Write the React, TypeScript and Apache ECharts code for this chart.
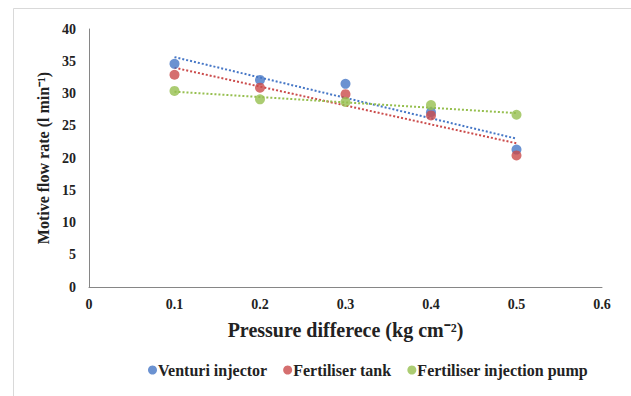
import React, { useEffect, useRef } from "react";
import * as echarts from "echarts";

const pressure = [0.1, 0.2, 0.3, 0.4, 0.5];
const venturi = [34.6, 32.1, 31.5, 27.1, 21.3];
const tank = [32.9, 30.9, 29.9, 26.6, 20.4];
const pump = [30.4, 29.1, 28.7, 28.2, 26.7];
const seriesNames = ["Venturi injector", "Fertiliser tank", "Fertiliser injection pump"];
const colors = ["#4677C6", "#CB4B4B", "#96BF4F"];

function trend(xs: number[], ys: number[]) {
  const n = xs.length;
  const mx = xs.reduce((a, b) => a + b, 0) / n;
  const my = ys.reduce((a, b) => a + b, 0) / n;
  let num = 0, den = 0;
  for (let i = 0; i < n; i++) {
    num += (xs[i] - mx) * (ys[i] - my);
    den += (xs[i] - mx) * (xs[i] - mx);
  }
  const b = num / den;
  const a = my - b * mx;
  const x0 = xs[0], x1 = xs[n - 1];
  return [[x0, a + b * x0], [x1, a + b * x1]];
}

export default function App() {
  const ref = useRef<HTMLDivElement>(null);
  useEffect(() => {
    document.body.style.margin = "0";
    const chart = echarts.init(ref.current!, null, { renderer: "svg" });
    const font = "'Liberation Serif', 'Times New Roman', serif";
    const all = [venturi, tank, pump];
    const scatterSeries = all.map((ys, i) => ({
      name: seriesNames[i],
      type: "scatter",
      symbol: "circle",
      symbolSize: 10,
      itemStyle: { color: colors[i] },
      data: pressure.map((x, j) => [x, ys[j]]),
      z: 3,
    }));
    const trendSeries = all.map((ys, i) => ({
      name: seriesNames[i] + " trend",
      type: "line",
      showSymbol: false,
      symbol: "none",
      lineStyle: { color: colors[i], width: 2, type: [2, 2] },
      data: trend(pressure, ys),
      z: 2,
    }));
    chart.setOption({
      animation: false,
      backgroundColor: "#ffffff",
      textStyle: { fontFamily: font },
      graphic: [
        {
          type: "rect",
          shape: { x: 13.5, y: 8.5, width: 700, height: 500 },
          style: { fill: "none", stroke: "#D9D9D9", lineWidth: 1 },
          silent: true,
          z: -1,
        },
      ],
      grid: { left: 89, right: 29, top: 29, bottom: 109 },
      legend: {
        data: seriesNames,
        left: 143,
        top: 357,
        icon: "circle",
        itemWidth: 9,
        itemHeight: 9,
        itemGap: 16,
        textStyle: { fontFamily: font, fontWeight: "bold", fontSize: 16, color: "#222", padding: [0, 0, 0, -4] },
      },
      xAxis: {
        type: "value",
        min: 0,
        max: 0.6,
        interval: 0.1,
        name: "Pressure differece (kg cm⁻²)",
        nameLocation: "middle",
        nameGap: 33,
        nameTextStyle: { fontFamily: font, fontWeight: "bold", fontSize: 20, color: "#222" },
        axisLine: { show: true, lineStyle: { color: "#868686", width: 1 } },
        axisTick: { show: false },
        splitLine: { show: false },
        axisLabel: { fontFamily: font, fontWeight: "bold", fontSize: 14, color: "#222", margin: 10 },
      },
      yAxis: {
        type: "value",
        min: 0,
        max: 40,
        interval: 5,
        name: "Motive flow rate (l min⁻¹)",
        nameLocation: "middle",
        nameGap: 36,
        nameTextStyle: { fontFamily: font, fontWeight: "bold", fontSize: 16, color: "#222" },
        axisLine: { show: true, lineStyle: { color: "#868686", width: 1 } },
        axisTick: { show: false },
        splitLine: { show: false },
        axisLabel: { fontFamily: font, fontWeight: "bold", fontSize: 14, color: "#222", margin: 13 },
      },
      series: [...trendSeries, ...scatterSeries],
    });
    return () => chart.dispose();
  }, []);
  return <div ref={ref} style={{ width: 631, height: 396 }} />;
}
